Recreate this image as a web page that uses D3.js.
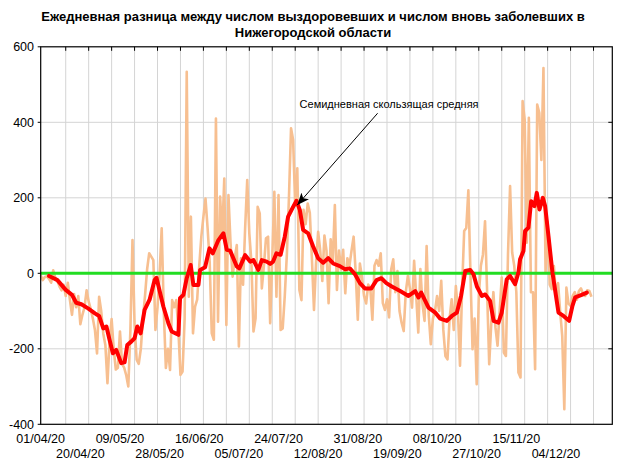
<!DOCTYPE html>
<html>
<head>
<meta charset="utf-8">
<script src="https://cdn.jsdelivr.net/npm/d3@7"></script>
<style>
  body { margin: 0; background: #fff; }
  svg { display: block; font-family: "Liberation Sans", Arial, sans-serif; }
</style>
</head>
<body>
<svg id="chart" width="624" height="468"></svg>
<script>
// ---------- données ----------
const startLabel = "01/04/20";
const endLabel = "31/12/20";

// différence quotidienne (guéris - nouveaux cas), un point par jour depuis le 01/04/20
const dailyDiff = [
  -5, -18, -10, -8, -15, -25, 8, -12, -20, -35,
  -45, -30, -60, -25, -70, -110, -55, -90, -60, -135,
  -110, -90, -45, -75, -95, -120, -150, -212, -62, -100,
  -160, -190, -291, -180, -121, -200, -255, -250, -154, -240,
  -250, -270, -300, -150, 88, -137, -229, -240, -200, -120,
  -60, 10, 53, 44, 35, -150, -90, 0, 119, -100,
  -251, -200, -256, -71, -90, -71, -150, -269, -260, -120,
  534, -62, 150, -159, -88, -70, 20, 97, 150, 198,
  120, 30, -159, -176, 410, -128, 203, 100, 251, -137,
  207, 80, -9, 40, 75, -194, 40, -30, 120, 247,
  106, 30, -154, -119, 176, 159, -40, 20, 93, 97,
  -132, 40, 216, -62, 207, -150, -146, -60, 50, 200,
  384, 353, 180, 278, -44, -71, 168, 130, 185, 160,
  40, -97, 30, 110, 60, -20, 100, 60, -79, 90,
  30, 181, -44, 60, 10, 62, -53, 40, 20, 60,
  97, 0, -123, 26, -10, -60, -80, -30, -40, -123,
  20, 35, 20, 53, -79, -97, -69, -117, 10, 37,
  -50, 6, -100, -131, -153, -50, -7, -40, -91, 33,
  -60, -157, 11, -80, -126, 72, -110, -188, -120, -100,
  -60, -100, -20, -150, -219, -228, -120, -69, -150, -34,
  -100, -245, -40, 112, 120, 220, 0, -201, -120, -294,
  -60, 20, 50, 138, -50, -241, -130, -50, -144, -192,
  -100, -11, -210, -219, 50, 231, 55, 20, -50, -263,
  -276, 456, 407, 81, 412, -50, -50, -254, 447, 425,
  300, 544, 2, 137, -30, -42, 19, -60, -26, -100,
  -166, -360, -38, -80, -86, -60, -50, -70, -47, -40,
  -55, -60, -45, -47, -62
];

// moyenne mobile sur 7 jours (jour depuis le 01/04/20, valeur)
const maDay = [
  4, 8, 12, 15, 17, 19.5, 22.7, 26, 28, 30, 31.5, 33, 34.6, 36.2, 38.6, 40.2, 41.5, 43.4, 45, 46.3,
  47.9, 49.8, 52.2, 54.6, 55.5, 58.8, 61.2, 62.8, 66, 66.8, 68.4, 70, 71.9, 73.2, 75.6, 76.4, 78.8, 80.9, 82.5, 85.2,
  87.6, 89.2, 90.8, 94, 95.2, 98, 100.4, 102, 104.3, 106, 108.3, 110, 111.4, 113, 115, 117, 118.6, 121, 122.6, 124.2,
  125.8, 128.2, 130.6, 133, 135.4, 137.8, 140.2, 143.4, 145.8, 148.2, 150.6, 153, 155.4, 158.5, 161, 163.3, 165.7, 168.3, 172.3, 176.3,
  179.5, 181.1, 182.4, 185.9, 189.1, 191.5, 194.7, 197.1, 199.5, 201.5, 203.5, 205.9, 207.5, 209.1, 211.5, 213.1, 215.4, 217.1, 219.4, 221,
  223.4, 225, 227.4, 229, 229.8, 231.4, 232.2, 233.8, 235.1, 236.7, 237.8, 239.1, 240.7, 241.8, 243.4, 245.3, 246.3, 248.2, 250.6, 253.3,
  254.9, 256.2, 259, 261.8
];
const maValue = [
  -7, -18, -44, -57, -78, -82, -93, -106, -113, -146, -141, -176, -212, -203, -238, -236, -190, -181, -172, -141,
  -159, -97, -70, -18, -12, -88, -132, -154, -163, -66, -57, -13, 22, -31, -31, 9, 16, 66, 53, 88,
  106, 62, 60, 18, 13, 48, 31, 35, 9, 35, 31, 25, 31, 53, 49, 97, 150, 176, 192, 168,
  115, 106, 71, 40, 28, 40, 26, 19, 11, 13, -2, -26, -40, -40, -18, -13, -26, -35, -47, -60,
  -47, -64, -51, -91, -104, -120, -126, -113, -104, -60, 6, 9, -3, -35, -60, -56, -73, -126, -131, -104,
  -16, -7, -29, 2, 37, 59, 112, 121, 191, 178, 213, 169, 200, 178, 99, 2, -34, -104, -113, -126,
  -86, -64, -58, -51
];

const xTickLabels = ["01/04/20", "20/04/20", "09/05/20", "28/05/20", "16/06/20", "05/07/20", "24/07/20",
  "12/08/20", "31/08/20", "19/09/20", "08/10/20", "27/10/20", "15/11/20", "04/12/20"];
const yTicks = [-400, -200, 0, 200, 400, 600];
const yGrid = [-200, 200, 400];

const titleLines = ["Ежедневная разница между числом выздоровевших и числом вновь заболевших в",
  "Нижегородской области"];
const annotationText = "Семидневная скользящая средняя";

// ---------- échelles ----------
const parseDate = d3.utcParse("%d/%m/%y");
const startDate = parseDate(startLabel);
const endDate = parseDate(endLabel);
function dayToDate(d) { return new Date(startDate.getTime() + d * 864e5); }

const plotLeft = 40.7, plotRight = 612.3, plotTop = 46.8, plotBottom = 424.3;
const x = d3.scaleUtc().domain([startDate, endDate]).range([plotLeft, plotRight]);
const y = d3.scaleLinear().domain([-400, 600]).range([plotBottom, plotTop]);

const svg = d3.select("#chart");

// titre
svg.append("g").selectAll("text").data(titleLines).join("text")
  .attr("x", 313).attr("y", (d, i) => 21 + i * 16)
  .attr("text-anchor", "middle")
  .attr("font-size", 13).attr("font-weight", "bold")
  .text(d => d);

// grille
const gridDays = d3.range(12, 270, 11);
svg.append("g").selectAll("line").data(gridDays).join("line")
  .attr("x1", d => x(dayToDate(d))).attr("x2", d => x(dayToDate(d)))
  .attr("y1", plotTop).attr("y2", plotBottom)
  .attr("stroke", "#d4d4d4").attr("stroke-width", 1);
svg.append("g").selectAll("line").data(yGrid).join("line")
  .attr("x1", plotLeft).attr("x2", plotRight)
  .attr("y1", d => y(d)).attr("y2", d => y(d))
  .attr("stroke", "#d4d4d4").attr("stroke-width", 1);

// petites graduations en haut et à droite
svg.append("g").selectAll("line").data(gridDays).join("line")
  .attr("x1", d => x(dayToDate(d))).attr("x2", d => x(dayToDate(d)))
  .attr("y1", plotTop).attr("y2", plotTop + 4)
  .attr("stroke", "#000");
svg.append("g").selectAll("line").data(yGrid).join("line")
  .attr("x1", plotRight - 4).attr("x2", plotRight)
  .attr("y1", d => y(d)).attr("y2", d => y(d))
  .attr("stroke", "#000");

// série quotidienne
const lineDaily = d3.line()
  .x((d, i) => x(dayToDate(i)))
  .y(d => y(d));
svg.append("path").datum(dailyDiff)
  .attr("d", lineDaily)
  .attr("fill", "none")
  .attr("stroke", "#f7bf90")
  .attr("stroke-width", 2.6)
  .attr("stroke-linejoin", "round");

// ligne zéro
svg.append("line")
  .attr("x1", plotLeft).attr("x2", plotRight)
  .attr("y1", y(0)).attr("y2", y(0))
  .attr("stroke", "#22dd22").attr("stroke-width", 3);

// moyenne mobile
const lineMa = d3.line()
  .x(d => x(dayToDate(maDay[d])))
  .y(d => y(maValue[d]));
svg.append("path").datum(d3.range(maDay.length))
  .attr("d", lineMa)
  .attr("fill", "none")
  .attr("stroke", "#ff0000")
  .attr("stroke-width", 4)
  .attr("stroke-linejoin", "round")
  .attr("stroke-linecap", "round");

// cadre
svg.append("rect")
  .attr("x", plotLeft).attr("y", plotTop)
  .attr("width", plotRight - plotLeft).attr("height", plotBottom - plotTop)
  .attr("fill", "none").attr("stroke", "#000").attr("stroke-width", 1.2);

// axe Y
const yAxis = svg.append("g");
yAxis.selectAll("line").data(yTicks).join("line")
  .attr("x1", plotLeft - 3).attr("x2", plotLeft)
  .attr("y1", d => y(d)).attr("y2", d => y(d))
  .attr("stroke", "#000");
yAxis.selectAll("text").data(yTicks).join("text")
  .attr("x", 34).attr("y", d => y(d))
  .attr("dy", "0.35em")
  .attr("text-anchor", "end")
  .attr("font-size", 12.5)
  .text(d => d);

// axe X (étiquettes sur deux rangées)
svg.append("g").selectAll("text").data(xTickLabels).join("text")
  .attr("x", d => x(parseDate(d)))
  .attr("y", (d, i) => i % 2 === 0 ? 443 : 458)
  .attr("text-anchor", "middle")
  .attr("font-size", 12.5)
  .text(d => d);

// annotation avec flèche
svg.append("defs").append("marker")
  .attr("id", "arrow")
  .attr("viewBox", "0 0 12 10")
  .attr("refX", 12).attr("refY", 5)
  .attr("markerWidth", 12).attr("markerHeight", 10)
  .attr("markerUnits", "userSpaceOnUse")
  .attr("orient", "auto")
  .append("path")
  .attr("d", "M0,0 L12,5 L0,10 L3,5 Z")
  .attr("fill", "#000");

svg.append("line")
  .attr("x1", x(dayToDate(161.5))).attr("y1", y(424))
  .attr("x2", x(dayToDate(123))).attr("y2", y(181))
  .attr("stroke", "#000").attr("stroke-width", 1)
  .attr("marker-end", "url(#arrow)");

svg.append("text")
  .attr("x", x(dayToDate(167))).attr("y", y(437))
  .attr("text-anchor", "middle")
  .attr("font-size", 11)
  .text(annotationText);
</script>
</body>
</html>
